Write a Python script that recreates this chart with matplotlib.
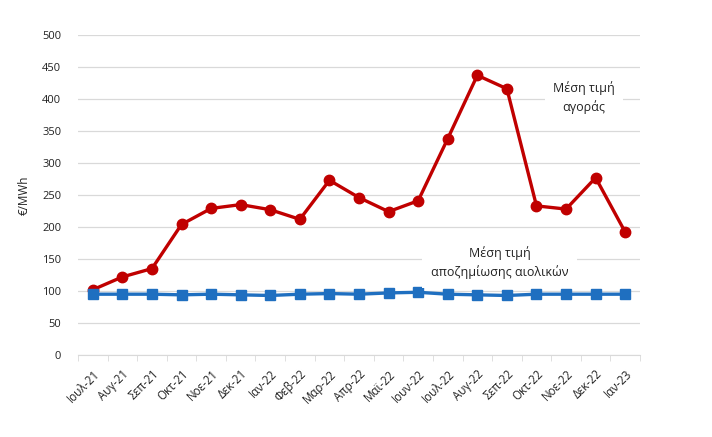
import matplotlib
matplotlib.use("Agg")
import matplotlib.pyplot as plt
import numpy as np

months = ["Ιουλ-21", "Αυγ-21", "Σεπ-21", "Οκτ-21", "Νοε-21", "Δεκ-21", "Ιαν-22",
          "Φεβ-22", "Μαρ-22", "Απρ-22", "Μαϊ-22", "Ιουν-22", "Ιουλ-22", "Αυγ-22",
          "Σεπ-22", "Οκτ-22", "Νοε-22", "Δεκ-22", "Ιαν-23"]
market_price = [102, 122, 135, 204, 229, 235, 227, 212, 273, 246, 224, 241,
                338, 437, 416, 233, 228, 277, 192]
wind_comp = [95, 95, 95, 94, 95, 94, 93, 95, 96, 95, 97, 98,
             95, 94, 93, 95, 95, 95, 95]
yticks = [0, 50, 100, 150, 200, 250, 300, 350, 400, 450, 500]

plt.rcParams['font.family'] = ['Open Sans', 'DejaVu Sans']

fig = plt.figure(figsize=(7.12, 4.37), dpi=100)
ax = fig.add_axes([78/712, 1-355/437, (640-78)/712, (355-35)/437])

x = np.arange(len(months))
ax.plot(x, market_price, color="#C00000", lw=2.4, marker="o", ms=7.5, zorder=3)
ax.plot(x, wind_comp, color="#1F6FC0", lw=2.4, marker="s", ms=7, zorder=3)

ax.set_xlim(-0.5, len(months) - 0.5)
ax.set_ylim(0, 500)
ax.set_yticks(yticks)
ax.set_yticklabels([str(v) for v in yticks], fontsize=8, color="#222222")
ax.yaxis.grid(True, color="#D9D9D9", lw=0.9)
ax.set_axisbelow(True)
ax.tick_params(axis='y', length=0, pad=12)

ax.set_xticks(x)
ax.set_xticklabels(months, rotation=45, ha='right', rotation_mode='anchor',
                   fontsize=8.3, color="#222222")
ax.set_xticks(np.arange(-0.5, len(months), 1), minor=True)
ax.tick_params(axis='x', which='major', length=0, pad=9)
ax.tick_params(axis='x', which='minor', length=4, color="#D9D9D9")

for s in ["top", "right", "left"]:
    ax.spines[s].set_visible(False)
ax.spines["bottom"].set_color("#D9D9D9")

ax.set_ylabel("€/MWh", fontsize=8.5, color="#222222", labelpad=8)

ax.text(16.6, 402, "Μέση τιμή\nαγοράς", ha='center', va='center', fontsize=9,
        color="#222222", linespacing=1.5,
        bbox=dict(facecolor='white', edgecolor='none', pad=6), zorder=4)
ax.text(13.75, 144, "Μέση τιμή\nαποζημίωσης αιολικών", ha='center', va='center',
        fontsize=9, color="#222222", linespacing=1.5,
        bbox=dict(facecolor='white', edgecolor='none', pad=6), zorder=4)

fig.savefig("out.png", dpi=100)
